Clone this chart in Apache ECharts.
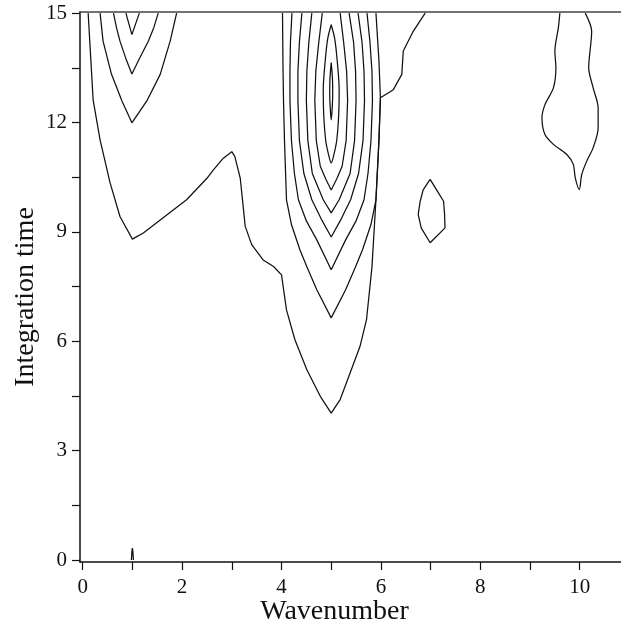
<!DOCTYPE html>
<html>
<head>
<meta charset="utf-8">
<script src="https://cdn.jsdelivr.net/npm/echarts@6/dist/echarts.min.js"></script>
<style>
  html, body { margin: 0; padding: 0; background: #fff; }
  #chart { width: 621px; height: 627px; }
</style>
</head>
<body>
<div id="chart"></div>
<script>
// ---- Axis ticks / labels ----
const xTickValues = [0, 1, 2, 3, 4, 5, 6, 7, 8, 9, 10];
const xLabelValues = [0, 2, 4, 6, 8, 10];
const yTickValues = [0, 1.5, 3, 4.5, 6, 7.5, 9, 10.5, 12, 13.5, 15];
const yLabelValues = [0, 3, 6, 9, 12, 15];

// ---- Contour lines [wavenumber, integration time] ----
const contourBig = [[0.11,15],[0.21,12.62],[0.35,11.52],[0.55,10.35],[0.75,9.42],[1.0,8.80],[1.22,8.97],[2.09,9.88],[2.50,10.47],[2.63,10.70],[2.83,11.02],[3.00,11.20],[3.06,11.07],[3.17,10.47],[3.27,9.15],[3.40,8.65],[3.63,8.23],[3.84,8.05],[4.00,7.82],[4.10,6.86],[4.27,6.04],[4.51,5.22],[4.78,4.49],[5.0,4.03],[5.18,4.40],[5.38,5.13],[5.58,5.86],[5.71,6.59],[5.82,8.04],[5.90,9.88],[5.96,11.5],[5.99,12.68],[6.25,12.90],[6.42,13.32],[6.45,13.96],[6.65,14.5],[6.89,15]];
const contourW5a = [[4.02,15],[4.03,13.5],[4.04,12.6],[4.06,11.5],[4.10,9.88],[4.20,9.2],[4.37,8.51],[4.51,8.04],[4.71,7.41],[5.0,6.64],[5.29,7.41],[5.49,8.04],[5.63,8.51],[5.80,9.2],[5.90,9.88],[5.96,11.5],[5.99,12.68],[5.96,13.7],[5.90,15]];
const contourW5b = [[4.21,15],[4.18,14.2],[4.17,13.4],[4.17,12.6],[4.20,11.5],[4.26,10.6],[4.34,9.88],[4.50,9.3],[4.71,8.78],[5.0,7.96],[5.29,8.78],[5.50,9.3],[5.66,9.88],[5.74,10.6],[5.80,11.5],[5.83,12.6],[5.82,13.4],[5.78,14.2],[5.72,15]];
const contourW5c = [[4.41,15],[4.36,14.2],[4.33,13.4],[4.33,12.6],[4.36,11.5],[4.45,10.6],[4.61,9.88],[4.80,9.35],[5.0,8.86],[5.20,9.35],[5.39,9.88],[5.55,10.6],[5.64,11.5],[5.67,12.6],[5.66,13.4],[5.62,14.2],[5.54,15]];
const contourW5d = [[4.61,15],[4.55,14.2],[4.51,13.4],[4.50,12.6],[4.53,11.5],[4.62,10.6],[4.84,9.88],[5.0,9.52],[5.16,9.88],[5.38,10.6],[5.47,11.5],[5.50,12.6],[5.49,13.4],[5.45,14.2],[5.36,15]];
const contourW5e = [[4.82,15],[4.75,14.2],[4.69,13.4],[4.67,12.6],[4.70,11.5],[4.78,10.8],[4.89,10.45],[5.0,10.15],[5.11,10.45],[5.22,10.8],[5.30,11.5],[5.33,12.6],[5.31,13.4],[5.25,14.2],[5.18,15]];
const contourW5f = [[5.0,14.68],[5.07,14.3],[5.12,13.7],[5.16,12.9],[5.15,12.2],[5.11,11.5],[5.05,11.1],[5.0,10.89],[4.95,11.1],[4.89,11.5],[4.85,12.2],[4.84,12.9],[4.88,13.7],[4.93,14.3],[5.0,14.68]];
const contourW5g = [[5.0,13.64],[5.025,13.2],[5.03,12.8],[5.02,12.4],[5.0,12.07],[4.98,12.4],[4.97,12.8],[4.975,13.2],[5.0,13.64]];
const contourW1a = [[0.35,15],[0.41,14.23],[0.58,13.32],[0.79,12.59],[0.99,11.99],[1.29,12.59],[1.56,13.32],[1.76,14.23],[1.89,15]];
const contourW1b = [[0.62,15],[0.68,14.6],[0.75,14.23],[0.87,13.75],[0.99,13.33],[1.14,13.75],[1.32,14.23],[1.43,14.6],[1.52,15]];
const contourW1c = [[0.87,15],[0.99,14.41],[1.14,15]];
const contourW1d = [[0.98,0],[0.99,0.23],[1.0,0.33],[1.01,0.23],[1.02,0]];
const contourW7 = [[6.99,10.44],[6.85,10.15],[6.79,9.84],[6.75,9.48],[6.81,9.11],[6.99,8.70],[7.29,9.11],[7.28,9.5],[7.26,9.84],[7.12,10.15],[6.99,10.44]];
const contourW10 = [[9.60,15],[9.57,14.60],[9.50,13.96],[9.52,13.50],[9.47,12.95],[9.30,12.49],[9.24,12.13],[9.30,11.67],[9.47,11.40],[9.74,11.12],[9.87,10.85],[9.91,10.48],[9.99,10.16],[10.04,10.57],[10.14,10.94],[10.27,11.31],[10.37,11.85],[10.37,12.40],[10.27,12.95],[10.18,13.50],[10.24,14.50],[10.11,15]];

const sharpContours = [contourBig, contourW5a, contourW5b, contourW5c, contourW5d, contourW5e,
                       contourW1a, contourW1b, contourW1c, contourW1d, contourW7];
const smoothContours = [contourW5f, contourW5g, contourW10];

const FONT = 'Liberation Serif';
const INK = '#111';

const chart = echarts.init(document.getElementById('chart'), null, { renderer: 'canvas' });

const xMin = -0.054, xMax = 10.83, yMin = -0.055, yMax = 15.03;

function lineSeries(c, smooth) {
  return {
    type: 'line', xAxisIndex: 0, yAxisIndex: 0,
    data: c, showSymbol: false, symbol: 'none', smooth: smooth,
    lineStyle: { color: INK, width: 1.25 },
    silent: true, clip: true
  };
}

chart.setOption({
  animation: false,
  backgroundColor: '#fff',
  grid: { left: 80, right: 0, top: 12, bottom: 65, containLabel: false, outerBoundsMode: 'none' },
  xAxis: [{
    type: 'value', min: xMin, max: xMax, position: 'bottom',
    name: 'Wavenumber', nameLocation: 'middle', nameGap: 36, nameMoveOverlap: false,
    nameTextStyle: { fontFamily: FONT, fontSize: 28, color: INK, padding: [0, 32, 0, 0] },
    axisLine: { show: true, onZero: false, lineStyle: { color: INK, width: 1.5 } },
    axisTick: { show: true, inside: false, length: 8, customValues: xTickValues, lineStyle: { color: INK, width: 1.2 } },
    axisLabel: { show: true, customValues: xLabelValues, margin: 15, fontFamily: FONT, fontSize: 21, color: INK },
    splitLine: { show: false }
  }, {
    type: 'value', min: xMin, max: xMax, position: 'top',
    axisLine: { show: true, onZero: false, lineStyle: { color: '#444', width: 1.5 } },
    axisTick: { show: false }, axisLabel: { show: false }, splitLine: { show: false }
  }],
  yAxis: [{
    type: 'value', min: yMin, max: yMax, position: 'left',
    name: 'Integration time', nameLocation: 'middle', nameGap: 40, nameMoveOverlap: false,
    nameTextStyle: { fontFamily: FONT, fontSize: 28, color: INK, padding: [0, 20, 0, 0] },
    axisLine: { show: true, onZero: false, lineStyle: { color: INK, width: 1.5 } },
    axisTick: { show: true, inside: false, length: 8, customValues: yTickValues, lineStyle: { color: INK, width: 1.2 } },
    axisLabel: { show: true, customValues: yLabelValues, margin: 13, fontFamily: FONT, fontSize: 21, color: INK },
    splitLine: { show: false }
  }],
  series: sharpContours.map(function (c) { return lineSeries(c, false); })
    .concat(smoothContours.map(function (c) { return lineSeries(c, 0.3); }))
});
</script>
</body>
</html>
